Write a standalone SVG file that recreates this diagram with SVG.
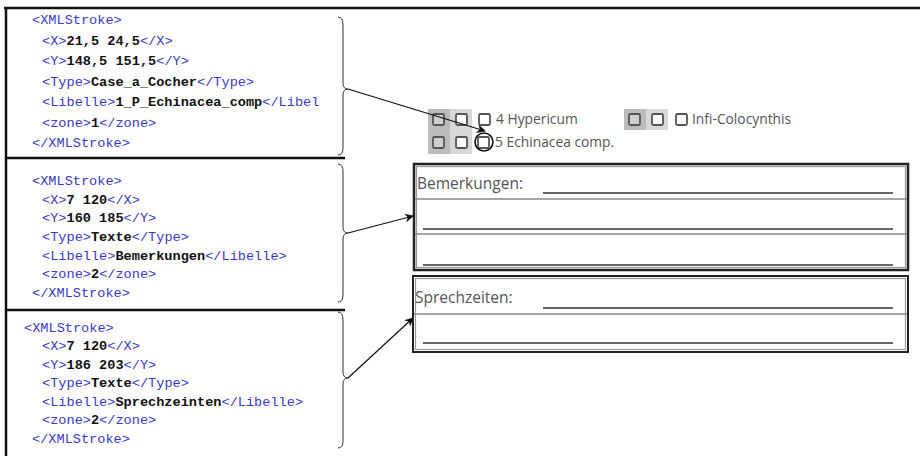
<svg xmlns="http://www.w3.org/2000/svg" width="920" height="456" viewBox="0 0 920 456">
<defs>
<style>
.code{font-family:"Liberation Mono","DejaVu Sans Mono",monospace;font-size:13.6px;fill:#3a3ac8}
.v{fill:#111;font-weight:bold}
.frame{stroke:#111;stroke-width:2.5;fill:none}
.brace{stroke:#333;stroke-width:1;fill:none}
.conn{stroke:#111;stroke-width:1.2;fill:none}
.form{font-family:"Open Sans","Noto Sans",sans-serif;fill:#555}
.ul{stroke:#666;stroke-width:2}
.div{stroke:#888;stroke-width:1.6}
.cb{fill:#fff;stroke:#555;stroke-width:1.8}
.cbg{fill:#d0d0d0;stroke:#555;stroke-width:1.8}
</style>
<marker id="ah" viewBox="0 0 10 10" refX="9" refY="5" markerWidth="9" markerHeight="9" markerUnits="userSpaceOnUse" orient="auto">
<path d="M0,0 L10,5 L0,10 L3,5 z" fill="#111"/>
</marker>
</defs>
<rect width="920" height="456" fill="#fff"/>
<g id="frame">
<line class="frame" x1="4" y1="8" x2="920" y2="8"/>
<line class="frame" x1="6" y1="8" x2="6" y2="456"/>
<line class="frame" x1="6" y1="158" x2="345" y2="158"/>
<line class="frame" x1="6" y1="310" x2="345" y2="310"/>
</g>
<g id="xml1" class="code">
<text x="32" y="24">&lt;XMLStroke&gt;</text>
<text x="42" y="45">&lt;X&gt;<tspan class="v">21,5 24,5</tspan>&lt;/X&gt;</text>
<text x="42" y="65">&lt;Y&gt;<tspan class="v">148,5 151,5</tspan>&lt;/Y&gt;</text>
<text x="42" y="86">&lt;Type&gt;<tspan class="v">Case_a_Cocher</tspan>&lt;/Type&gt;</text>
<text x="42" y="106">&lt;Libelle&gt;<tspan class="v">1_P_Echinacea_comp</tspan>&lt;/Libel</text>
<text x="42" y="127">&lt;zone&gt;<tspan class="v">1</tspan>&lt;/zone&gt;</text>
<text x="32" y="147">&lt;/XMLStroke&gt;</text>
</g>
<g id="xml2" class="code">
<text x="32" y="185">&lt;XMLStroke&gt;</text>
<text x="42" y="204">&lt;X&gt;<tspan class="v">7 120</tspan>&lt;/X&gt;</text>
<text x="42" y="222">&lt;Y&gt;<tspan class="v">160 185</tspan>&lt;/Y&gt;</text>
<text x="42" y="241">&lt;Type&gt;<tspan class="v">Texte</tspan>&lt;/Type&gt;</text>
<text x="42" y="260">&lt;Libelle&gt;<tspan class="v">Bemerkungen</tspan>&lt;/Libelle&gt;</text>
<text x="42" y="278">&lt;zone&gt;<tspan class="v">2</tspan>&lt;/zone&gt;</text>
<text x="32" y="297">&lt;/XMLStroke&gt;</text>
</g>
<g id="xml3" class="code">
<text x="24" y="332">&lt;XMLStroke&gt;</text>
<text x="42" y="350">&lt;X&gt;<tspan class="v">7 120</tspan>&lt;/X&gt;</text>
<text x="42" y="369">&lt;Y&gt;<tspan class="v">186 203</tspan>&lt;/Y&gt;</text>
<text x="42" y="387">&lt;Type&gt;<tspan class="v">Texte</tspan>&lt;/Type&gt;</text>
<text x="42" y="406">&lt;Libelle&gt;<tspan class="v">Sprechzeinten</tspan>&lt;/Libelle&gt;</text>
<text x="42" y="424">&lt;zone&gt;<tspan class="v">2</tspan>&lt;/zone&gt;</text>
<text x="32" y="443">&lt;/XMLStroke&gt;</text>
</g>
<g id="braces">
<path class="brace" d="M338,17 Q343,17 343,25 L343,83 Q343,89 348,89 Q343,89 343,95 L343,148 Q343,155 338,155"/>
<path class="brace" d="M338,164 Q343,164 343,172 L343,227 Q343,233 348,233 Q343,233 343,239 L343,295 Q343,302 338,302"/>
<path class="brace" d="M338,312 Q343,312 343,320 L343,372 Q343,378 348,378 Q343,378 343,384 L343,441 Q343,448 338,448"/>
</g>
<g id="checkboxes">
<rect x="428" y="109" width="22" height="45" fill="#bcbcbc"/>
<rect x="450" y="109" width="22" height="45" fill="#d8d8d8"/>
<rect x="624" y="109" width="22" height="21" fill="#bcbcbc"/>
<rect x="646" y="109" width="22" height="21" fill="#d8d8d8"/>
<rect class="cbg" x="433" y="114" width="11" height="11" rx="1.5"/>
<rect class="cb" x="456" y="114" width="11" height="11" rx="1.5"/>
<rect class="cb" x="479" y="114" width="11" height="11" rx="1.5"/>
<rect class="cbg" x="433" y="137" width="11" height="11" rx="1.5"/>
<rect class="cb" x="456" y="137" width="11" height="11" rx="1.5"/>
<rect class="cb" x="478" y="137" width="11" height="11" rx="1.5"/>
<rect class="cbg" x="629" y="114" width="11" height="11" rx="1.5"/>
<rect class="cb" x="652" y="114" width="11" height="11" rx="1.5"/>
<rect class="cb" x="676" y="114" width="11" height="11" rx="1.5"/>
<text class="form" x="496" y="124" font-size="13.8">4 Hypericum</text>
<text class="form" x="692" y="124" font-size="13.8">Infi-Colocynthis</text>
<text class="form" x="495" y="147" font-size="13.8">5 Echinacea comp.</text>
<circle cx="484" cy="142" r="9" fill="none" stroke="#111" stroke-width="1.6"/>
</g>
<g id="bemerkungen">
<rect x="414" y="164" width="494" height="106" fill="none" stroke="#222" stroke-width="2.5"/>
<rect x="416.5" y="166.5" width="489" height="101" fill="none" stroke="#999" stroke-width="1.2"/>
<line class="div" x1="415" y1="199" x2="907" y2="199"/>
<line class="div" x1="415" y1="234" x2="907" y2="234"/>
<text class="form" x="417" y="189" font-size="15.5">Bemerkungen:</text>
<line class="ul" x1="543" y1="193" x2="893" y2="193"/>
<line class="ul" x1="423" y1="229" x2="893" y2="229"/>
<line class="ul" x1="423" y1="265" x2="893" y2="265"/>
</g>
<g id="sprechzeiten">
<rect x="413" y="276" width="495" height="76" fill="none" stroke="#222" stroke-width="2"/>
<rect x="415.5" y="278.5" width="490" height="71" fill="none" stroke="#999" stroke-width="1.2"/>
<line class="div" x1="414" y1="314" x2="907" y2="314"/>
<text class="form" x="415" y="303" font-size="15.5">Sprechzeiten:</text>
<line class="ul" x1="543" y1="308" x2="893" y2="308"/>
<line class="ul" x1="423" y1="343" x2="893" y2="343"/>
</g>
<g id="connectors">
<line class="conn" x1="348" y1="89" x2="485" y2="131" marker-end="url(#ah)"/>
<line class="conn" x1="348" y1="233" x2="413" y2="216" marker-end="url(#ah)"/>
<line class="conn" x1="348" y1="378" x2="413" y2="318" marker-end="url(#ah)"/>
</g>
</svg>
